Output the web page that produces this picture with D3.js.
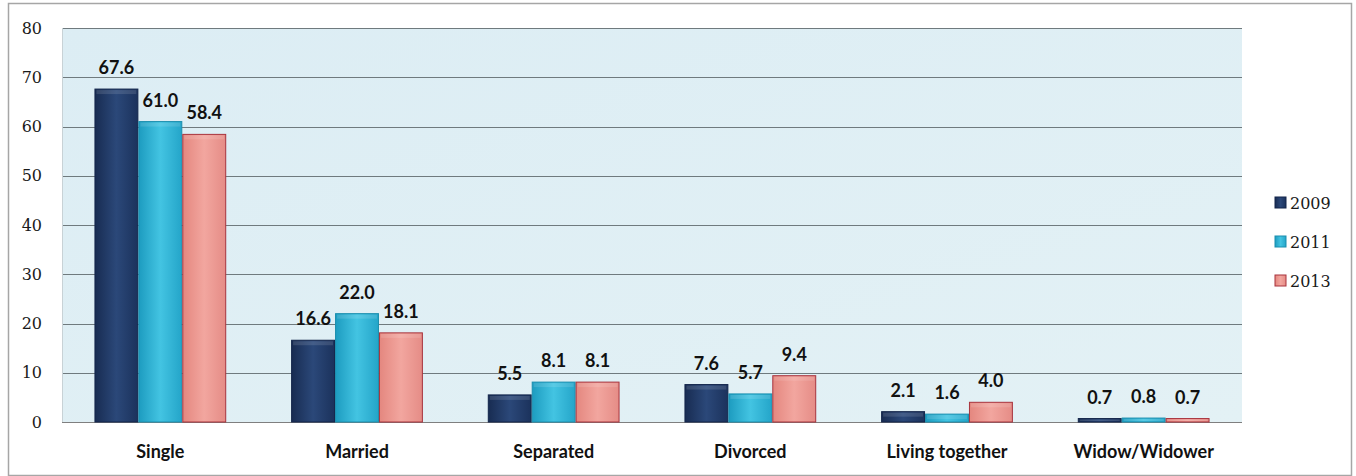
<!DOCTYPE html>
<html>
<head>
<meta charset="utf-8">
<script src="https://cdn.jsdelivr.net/npm/d3@7"></script>
<style>
  html, body { margin: 0; padding: 0; background: #ffffff; }
  svg { display: block; }
</style>
</head>
<body>
<svg id="chart" width="1356" height="476"></svg>
<script>
// Marital status shares (%) by survey year
const categories = ["Single", "Married", "Separated", "Divorced", "Living together", "Widow/Widower"];
const years = ["2009", "2011", "2013"];
const values2009 = [67.6, 16.6, 5.5, 7.6, 2.1, 0.7];
const values2011 = [61.0, 22.0, 8.1, 5.7, 1.6, 0.8];
const values2013 = [58.4, 18.1, 8.1, 9.4, 4.0, 0.7];
const yTicks = [0, 10, 20, 30, 40, 50, 60, 70, 80];

const seriesValues = [values2009, values2011, values2013];

const svg = d3.select("#chart");
const plot = { left: 62, right: 1242, top: 28, bottom: 422 };

// Gradients for the bars and the plot background
const defs = svg.append("defs");
const barStyles = [
  { id: "g2009", stops: ["#182c52", "#2b4879", "#1b325c"], stroke: "#13254a" },
  { id: "g2011", stops: ["#1d9cc0", "#43c4e2", "#24a5c9"], stroke: "#1b8eae" },
  { id: "g2013", stops: ["#e4877f", "#f2a69f", "#e58c86"], stroke: "#a8333d" }
];
barStyles.forEach(s => {
  const g = defs.append("linearGradient").attr("id", s.id)
    .attr("x1", "0%").attr("x2", "100%").attr("y1", "0%").attr("y2", "0%");
  g.append("stop").attr("offset", "0%").attr("stop-color", s.stops[0]);
  g.append("stop").attr("offset", "50%").attr("stop-color", s.stops[1]);
  g.append("stop").attr("offset", "100%").attr("stop-color", s.stops[2]);
});
const bg = defs.append("linearGradient").attr("id", "plotBg")
  .attr("x1", "0%").attr("x2", "100%").attr("y1", "0%").attr("y2", "100%");
bg.append("stop").attr("offset", "0%").attr("stop-color", "#dcedf4");
bg.append("stop").attr("offset", "100%").attr("stop-color", "#e3f1f5");

// Outer chart frame
svg.append("rect")
  .attr("x", 8.5).attr("y", 3.5).attr("width", 1343).attr("height", 472)
  .attr("fill", "#ffffff").attr("stroke", "#a6a6a6").attr("stroke-width", 1.5);

// Scales
const x0 = d3.scaleBand().domain(categories).range([plot.left, plot.right]).paddingInner(0.33).paddingOuter(0.165);
const x1 = d3.scaleBand().domain(years).range([0, x0.bandwidth()]).padding(0);
const y = d3.scaleLinear().domain([0, 80]).range([plot.bottom, plot.top]);

// Plot area
svg.append("rect")
  .attr("x", plot.left).attr("y", plot.top)
  .attr("width", plot.right - plot.left).attr("height", plot.bottom - plot.top)
  .attr("fill", "url(#plotBg)");

// Gridlines
svg.append("g").selectAll("line").data(yTicks).join("line")
  .attr("x1", plot.left).attr("x2", plot.right)
  .attr("y1", d => Math.round(y(d)) + 0.5).attr("y2", d => Math.round(y(d)) + 0.5)
  .attr("stroke", d => d === 0 ? "#7f7f7f" : "#6f7a7e").attr("stroke-width", 1);

// Y axis labels
const yAxis = d3.axisLeft(y).tickValues(yTicks).tickSize(0).tickPadding(0);
const yg = svg.append("g").attr("transform", `translate(${plot.left - 20},0)`).call(yAxis);
yg.select(".domain").remove();
yg.selectAll("text")
  .attr("font-family", "'DejaVu Serif', 'Liberation Serif', serif")
  .attr("font-size", 16).attr("fill", "#1a1a1a");

// Left plot edge
svg.append("line")
  .attr("x1", plot.left + 0.5).attr("x2", plot.left + 0.5)
  .attr("y1", plot.top).attr("y2", plot.bottom)
  .attr("stroke", "#c8d2d6");

// Bars
const groups = svg.append("g").selectAll("g").data(categories).join("g")
  .attr("transform", d => `translate(${x0(d)},0)`);

groups.each(function(cat, ci) {
  const g = d3.select(this);
  years.forEach((yr, si) => {
    const v = seriesValues[si][ci];
    const bx = x1(yr);
    const bw = x1.bandwidth();
    g.append("rect")
      .attr("x", bx + 0.5).attr("y", y(v))
      .attr("width", bw - 1).attr("height", y(0) - y(v))
      .attr("fill", `url(#${barStyles[si].id})`)
      .attr("stroke", barStyles[si].stroke).attr("stroke-width", 1);
    // soft highlight along the top edge
    g.append("rect")
      .attr("x", bx + 2).attr("y", y(v) + 1)
      .attr("width", bw - 4).attr("height", Math.min(4, Math.max(0, y(0) - y(v) - 2)))
      .attr("fill", "#ffffff").attr("opacity", 0.12);
    g.append("text")
      .attr("x", bx + bw / 2).attr("y", y(v) - 15)
      .attr("text-anchor", "middle")
      .attr("font-family", "Lato, 'Open Sans', sans-serif")
      .attr("font-weight", "bold").attr("font-size", 18)
      .attr("fill", "#111111")
      .text(v.toFixed(1));
  });
});

// Category labels
svg.append("g").selectAll("text").data(categories).join("text")
  .attr("x", d => x0(d) + x0.bandwidth() / 2)
  .attr("y", 458)
  .attr("text-anchor", "middle")
  .attr("font-family", "Lato, 'Open Sans', sans-serif")
  .attr("font-weight", "bold").attr("font-size", 18)
  .attr("fill", "#111111")
  .text(d => d);

// Legend
const legend = svg.append("g").selectAll("g").data(years).join("g")
  .attr("transform", (d, i) => `translate(1275, ${203 + i * 39})`);
legend.append("rect")
  .attr("x", 0).attr("y", -6).attr("width", 11).attr("height", 11)
  .attr("fill", (d, i) => `url(#${barStyles[i].id})`)
  .attr("stroke", (d, i) => barStyles[i].stroke);
legend.append("text")
  .attr("x", 15).attr("y", 0).attr("dy", "0.35em")
  .attr("font-family", "'DejaVu Serif', 'Liberation Serif', serif")
  .attr("font-size", 16).attr("fill", "#1a1a1a")
  .text(d => d);
</script>
</body>
</html>
